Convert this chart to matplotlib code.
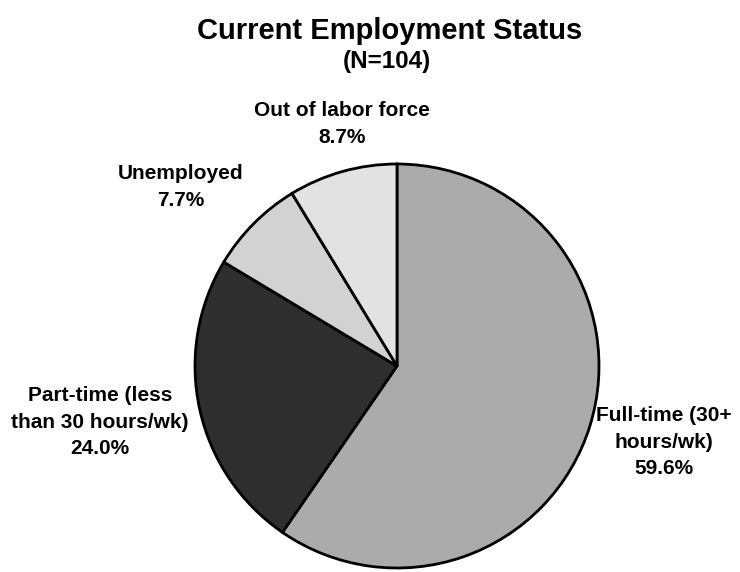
import matplotlib
matplotlib.use("Agg")
import matplotlib.pyplot as plt

plt.rcParams['font.family'] = ['Liberation Sans', 'DejaVu Sans']

labels = ["Full-time (30+\nhours/wk)", "Part-time (less\nthan 30 hours/wk)",
          "Unemployed", "Out of labor force"]
shares = [59.6, 24.0, 7.7, 8.7]
colors = ["#ababab", "#2e2e2e", "#d2d2d2", "#e2e2e2"]

W, H = 740, 572
fig = plt.figure(figsize=(W / 100, H / 100), dpi=100)
ax = fig.add_axes([0, 0, 1, 1])

wedges, _ = ax.pie(shares, colors=colors, startangle=90, counterclock=False,
                   center=(397, 206), radius=202,
                   wedgeprops=dict(edgecolor="black", linewidth=2))
ax.set_xlim(0, W); ax.set_ylim(0, H)
ax.set_aspect("equal")
ax.axis("off")

# label positions (pixels from top) for each slice
label_xy = [(664, 442), (100, 422), (181, 187), (342, 124)]
for lab, s, (x, y) in zip(labels, shares, label_xy):
    ax.text(x, H - y, f"{lab}\n{s:.1f}%", ha="center", va="center",
            fontsize=15, fontweight="bold", linespacing=1.5)

fig.text(390 / W, 1 - 31 / H, "Current Employment Status", ha="center", va="center",
         fontsize=21, fontweight="bold")
fig.text(387 / W, 1 - 62 / H, "(N=104)", ha="center", va="center",
         fontsize=17.5, fontweight="bold")

fig.savefig("out.png", dpi=100, facecolor="white")
